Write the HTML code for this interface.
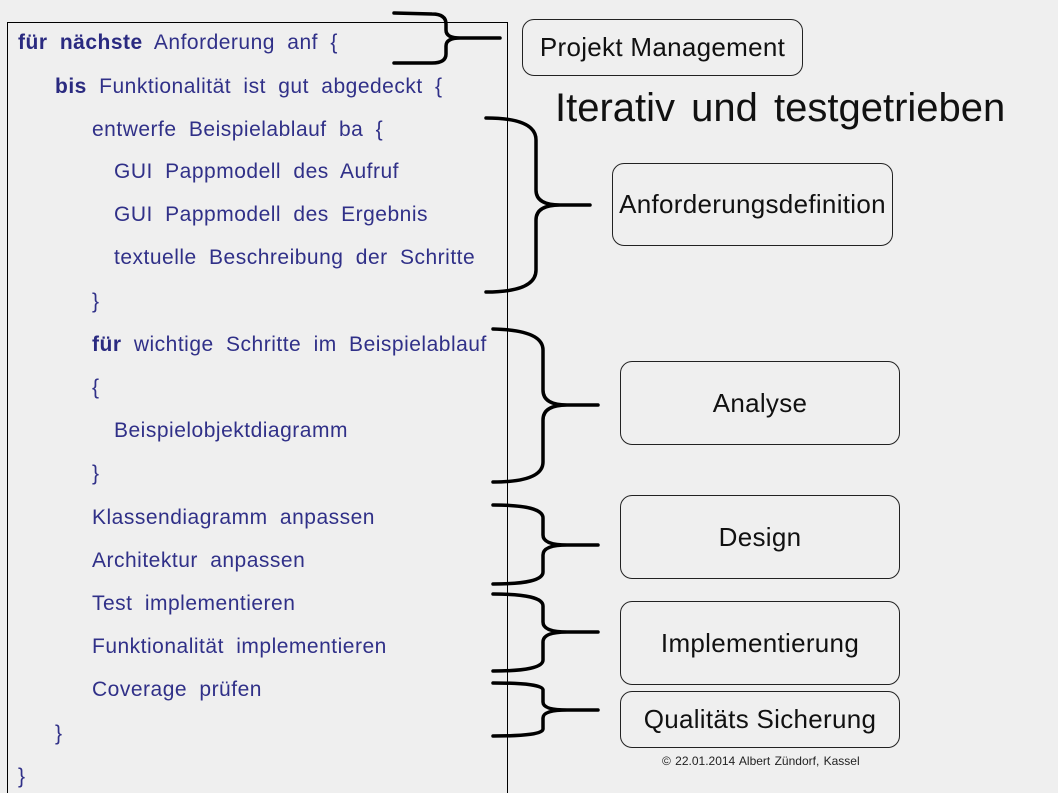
<!DOCTYPE html>
<html><head><meta charset="utf-8"><style>
html,body{margin:0;width:1058px;height:793px;overflow:hidden}
body{background:#efefef;position:relative;font-family:"Liberation Sans",sans-serif}
.code{position:absolute;left:7px;top:22px;width:499px;height:780px;border:1px solid #000}
.l{position:absolute;font-size:21px;color:#303088;white-space:nowrap;line-height:24px;word-spacing:6px;letter-spacing:0.5px}
.l b{color:#2a2a80}
.box{position:absolute;border:1px solid #222;border-radius:12px;display:flex;align-items:center;justify-content:center;font-size:26px;letter-spacing:0.3px;color:#111;white-space:nowrap}
</style></head><body>
<div class="code"></div>
<div class="l" style="left:18px;top:31px"><b>für nächste</b> Anforderung anf {</div>
<div class="l" style="left:55px;top:75px"><b>bis</b> Funktionalität ist gut abgedeckt {</div>
<div class="l" style="left:92px;top:118px">entwerfe Beispielablauf ba {</div>
<div class="l" style="left:114px;top:160px">GUI Pappmodell des Aufruf</div>
<div class="l" style="left:114px;top:203px">GUI Pappmodell des Ergebnis</div>
<div class="l" style="left:114px;top:246px">textuelle Beschreibung der Schritte</div>
<div class="l" style="left:92px;top:290px">}</div>
<div class="l" style="left:92px;top:333px"><b>für</b> wichtige Schritte im Beispielablauf</div>
<div class="l" style="left:92px;top:376px">{</div>
<div class="l" style="left:114px;top:419px">Beispielobjektdiagramm</div>
<div class="l" style="left:92px;top:462px">}</div>
<div class="l" style="left:92px;top:506px">Klassendiagramm anpassen</div>
<div class="l" style="left:92px;top:549px">Architektur anpassen</div>
<div class="l" style="left:92px;top:592px">Test implementieren</div>
<div class="l" style="left:92px;top:635px">Funktionalität implementieren</div>
<div class="l" style="left:92px;top:678px">Coverage prüfen</div>
<div class="l" style="left:55px;top:722px">}</div>
<div class="l" style="left:18px;top:765px">}</div>

<svg width="1058" height="793" style="position:absolute;left:0;top:0" fill="none" stroke="#000" stroke-width="3.5" stroke-linecap="round">
<path d="M394 13 L432 14 Q446 14 446 24 L446 30 Q446 38 460 38 L500 38 M460 38 Q446 38 446 46 L446 54 Q446 63 432 63 L394 63"/>
<path d="M486 118 Q536 118 536 140 L536 190 Q536 205 560 205 L590 205 M560 205 Q536 205 536 220 L536 270 Q536 292 486 292"/>
<path d="M493 329 Q543 330 543 350 L543 390 Q543 405 567 405 L598 405 M567 405 Q543 405 543 420 L543 462 Q543 482 493 482"/>
<path d="M493 505 Q543 505 543 518 L543 535 Q543 545 567 545 L598 545 M567 545 Q543 545 543 555 L543 572 Q543 584 493 584"/>
<path d="M493 594 Q543 594 543 606 L543 622 Q543 632 567 632 L598 632 M567 632 Q543 632 543 642 L543 660 Q543 671 493 671"/>
<path d="M493 683 Q543 683 543 690 L543 702 Q543 710 567 710 L598 710 M567 710 Q543 710 543 718 L543 729 Q543 736 493 736"/>
</svg>

<div class="box" style="left:522px;top:19px;width:279px;height:55px">Projekt Management</div>
<div style="position:absolute;left:555px;top:86px;font-size:40px;word-spacing:5px;color:#111;white-space:nowrap">Iterativ und testgetrieben</div>
<div class="box" style="left:612px;top:163px;width:279px;height:81px">Anforderungsdefinition</div>
<div class="box" style="left:620px;top:361px;width:278px;height:82px">Analyse</div>
<div class="box" style="left:620px;top:495px;width:278px;height:82px">Design</div>
<div class="box" style="left:620px;top:601px;width:278px;height:82px">Implementierung</div>
<div class="box" style="left:620px;top:691px;width:278px;height:55px">Qualitäts Sicherung</div>
<div style="position:absolute;left:662px;top:754px;font-size:12px;word-spacing:1px;color:#222;white-space:nowrap">© 22.01.2014 Albert Zündorf, Kassel</div>
</body></html>
